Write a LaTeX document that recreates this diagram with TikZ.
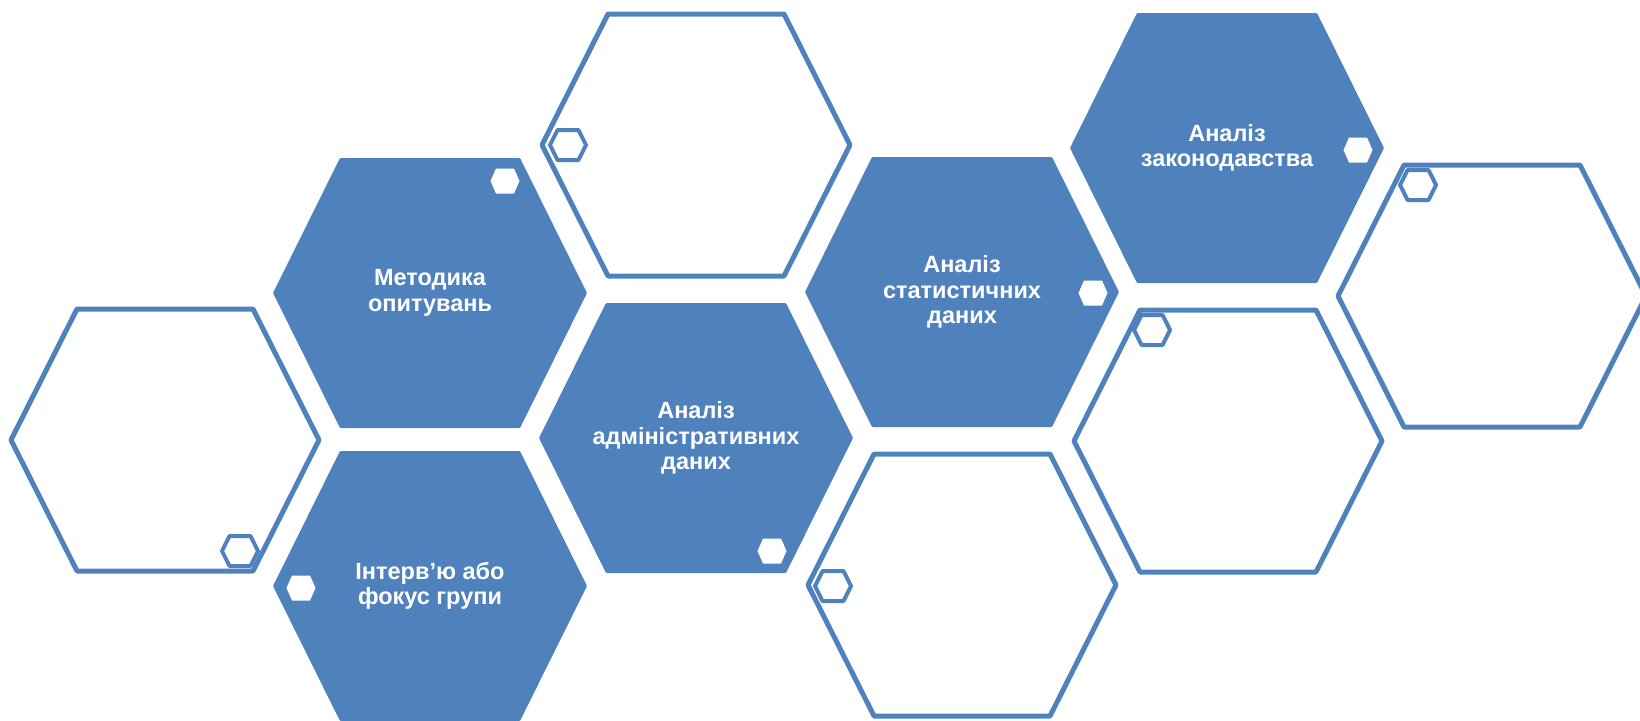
\documentclass[tikz,border=0pt]{standalone}
\usepackage{fontspec}
\setmainfont{Liberation Sans}
\usepackage{tikz}
\definecolor{hexblue}{HTML}{4F81BD}
\tikzstyle{bighex}=[fill=hexblue,rounded corners=1pt]
\tikzstyle{openhex}=[draw=hexblue,line width=5pt,line join=round]
\tikzstyle{dothex}=[fill=white]
\tikzstyle{ringhex}=[draw=hexblue,line width=4pt,line join=round]
\tikzstyle{hextext}=[text=white,align=center,inner sep=0pt,
                     font=\bfseries\fontsize{23.5}{25.5}\selectfont]

\begin{document}
\begin{tikzpicture}[x=1pt,y=-1pt]
    \newcommand{\hexa}[5]{%
      \path[#1,shift={(#2)}] (-#3,0) -- (-#4,-#5) -- (#4,-#5) -- (#3,0)
        -- (#4,#5) -- (-#4,#5) -- cycle;}
    \newcommand{\hexfill}[1]{\hexa{bighex}{#1}{157}{90}{135}}
    \newcommand{\hexopen}[1]{\hexa{openhex}{#1}{154}{88}{131}}
    \newcommand{\hexdot}[1]{\hexa{dothex}{#1}{14.5}{9}{12.5}}
    \newcommand{\hexring}[1]{\hexa{ringhex}{#1}{18}{10.5}{15}}
    \useasboundingbox (0,0) rectangle (1640,720);
    \clip (0,0) rectangle (1640,720);
    \coordinate (o1) at (165,440);
    \coordinate (f1) at (430,293);
    \coordinate (f4) at (430,586);
    \coordinate (o2) at (696,145);
    \coordinate (f5) at (696,438);
    \coordinate (f2) at (962,292);
    \coordinate (o4) at (962,585);
    \coordinate (f3) at (1227,148);
    \coordinate (o5) at (1228,441);
    \coordinate (o3) at (1492,296);
    \hexfill{f1} \hexfill{f4} \hexfill{f5} \hexfill{f2} \hexfill{f3}
    \hexopen{o1} \hexopen{o2} \hexopen{o4} \hexopen{o5} \hexopen{o3}
    \coordinate (d1) at (505,181);
    \coordinate (d2) at (301,588);
    \coordinate (d3) at (772,551);
    \coordinate (d4) at (1093,293);
    \coordinate (d5) at (1358,150);
    \hexdot{d1} \hexdot{d2} \hexdot{d3} \hexdot{d4} \hexdot{d5}
    \coordinate (r1) at (240,551);
    \coordinate (r2) at (568,145);
    \coordinate (r3) at (833,586);
    \coordinate (r4) at (1152,330);
    \coordinate (r5) at (1418,185);
    \hexring{r1} \hexring{r2} \hexring{r3} \hexring{r4} \hexring{r5}
    \node (t1) at (f1) [hextext] {Методика\\опитувань};
    \node (t2) at (f4) [hextext] {Інтерв’ю або\\фокус групи};
    \node (t3) at (f5) [hextext] {Аналіз\\адміністративних\\даних};
    \node (t4) at (f2) [hextext] {Аналіз\\статистичних\\даних};
    \node (t5) at (f3) [hextext] {Аналіз\\законодавства};
  \end{tikzpicture}
\end{document}
